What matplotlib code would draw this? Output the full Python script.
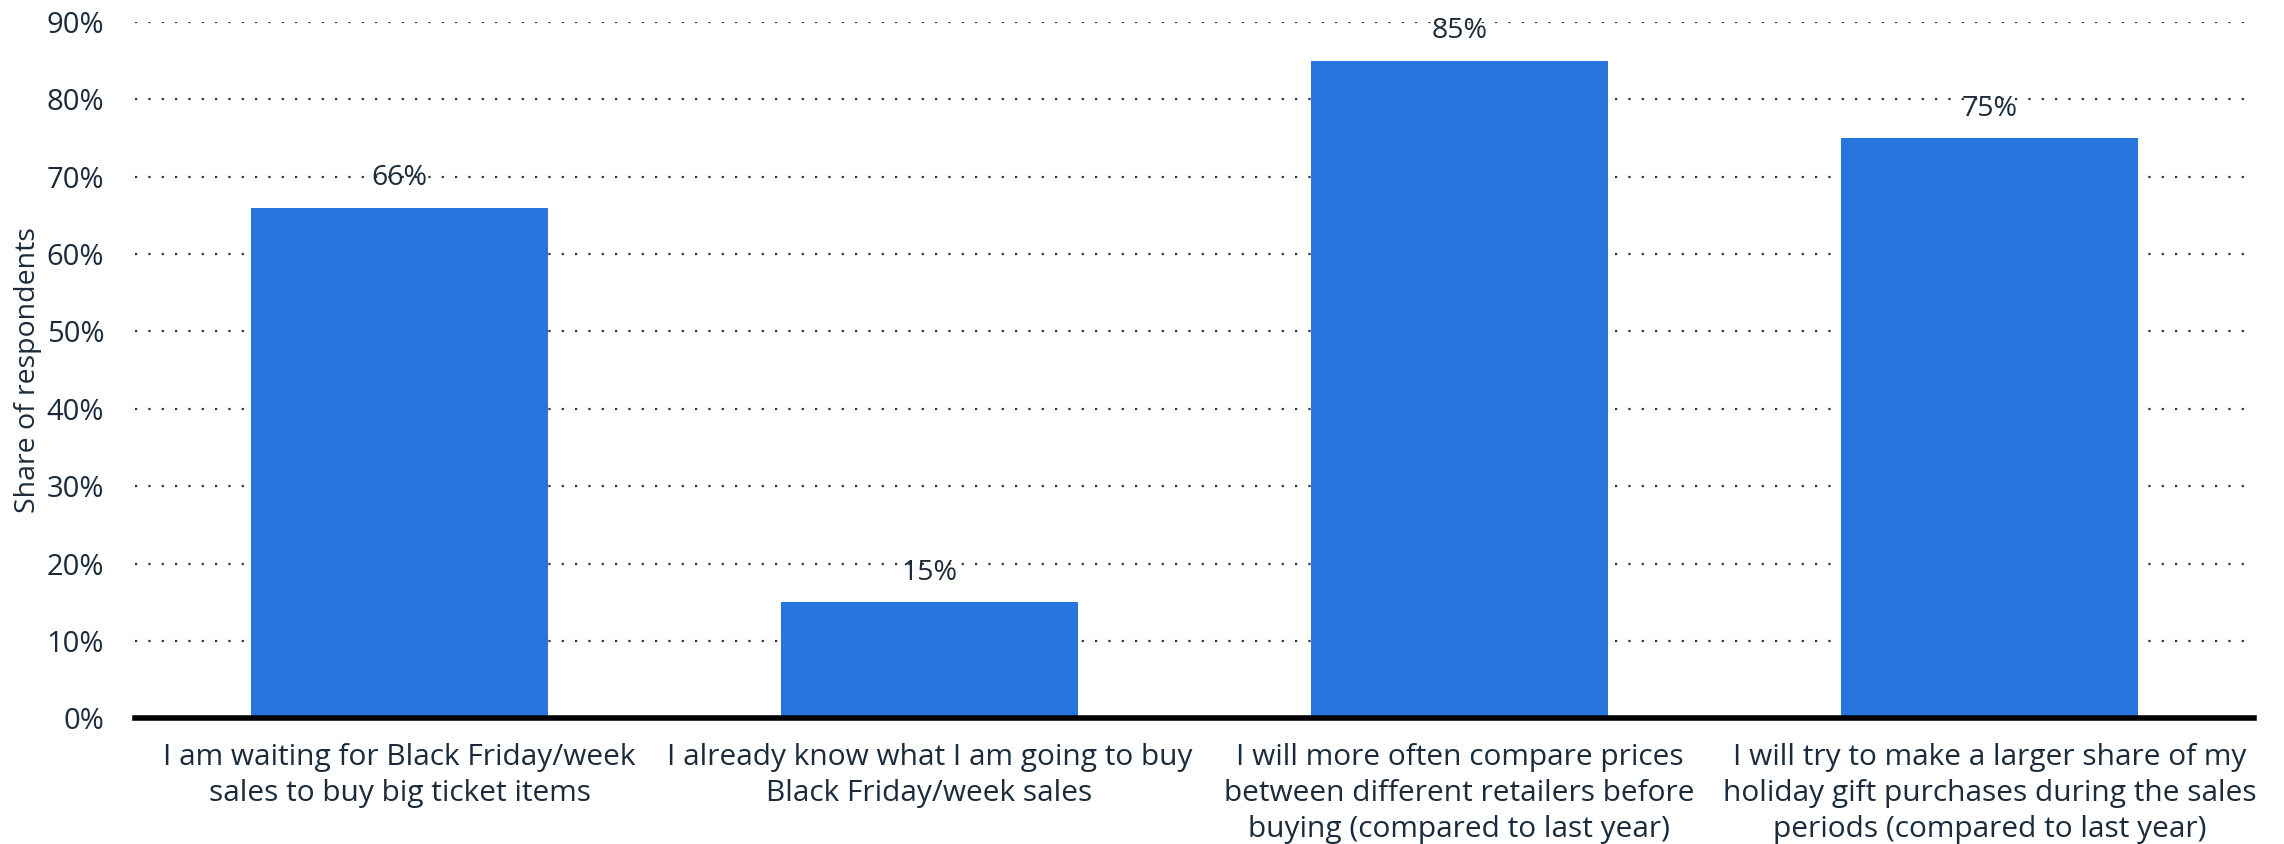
import matplotlib.pyplot as plt
from matplotlib.ticker import MultipleLocator, FuncFormatter

# ==========================
# DATA
# ==========================
CATEGORIES = [
    "I am waiting for Black Friday/week\nsales to buy big ticket items",
    "I already know what I am going to buy\nBlack Friday/week sales",
    "I will more often compare prices\nbetween different retailers before\nbuying (compared to last year)",
    "I will try to make a larger share of my\nholiday gift purchases during the sales\nperiods (compared to last year)",
]
SHARES = [66, 15, 85, 75]
Y_LABEL = "Share of respondents"

BAR_COLOR = "#2876dd"
TEXT_COLOR = "#1b2b3c"

plt.rcParams["font.family"] = ["Open Sans", "DejaVu Sans"]

fig = plt.figure(figsize=(22.84, 8.44), dpi=100)
ax = fig.add_axes([0.059, 0.149, 0.928, 0.825])

x = list(range(len(CATEGORIES)))
bars = ax.bar(x, SHARES, width=0.56, color=BAR_COLOR, zorder=3)

for rect, val in zip(bars, SHARES):
    ax.annotate(f"{val}%", (rect.get_x() + rect.get_width() / 2, val),
                xytext=(0, 11), textcoords="offset points",
                ha="center", va="bottom", fontsize=20.5, color=TEXT_COLOR, zorder=4)

ax.set_xlim(-0.5, len(CATEGORIES) - 0.5)
ax.set_ylim(0, 90)
ax.yaxis.set_major_locator(MultipleLocator(10))
ax.yaxis.set_major_formatter(FuncFormatter(lambda v, _: f"{v:.0f}%"))

ax.set_xticks(x)
ax.set_xticklabels(CATEGORIES, fontsize=21.5, color=TEXT_COLOR, linespacing=1.33)
ax.tick_params(axis="x", length=0, pad=17.5)
ax.tick_params(axis="y", length=0, pad=22, labelsize=21, labelcolor=TEXT_COLOR)

ax.set_ylabel(Y_LABEL, fontsize=20.5, color=TEXT_COLOR, labelpad=3)

ax.grid(axis="y", linestyle=(0, (1, 5)), linewidth=1.6, color="#333333", zorder=0)
ax.grid(axis="x", visible=False)

for side in ["top", "right", "left"]:
    ax.spines[side].set_visible(False)
ax.spines["bottom"].set_linewidth(4)
ax.spines["bottom"].set_color("black")
ax.spines["bottom"].set_zorder(5)

fig.savefig("out.png", dpi=100, facecolor="white")
